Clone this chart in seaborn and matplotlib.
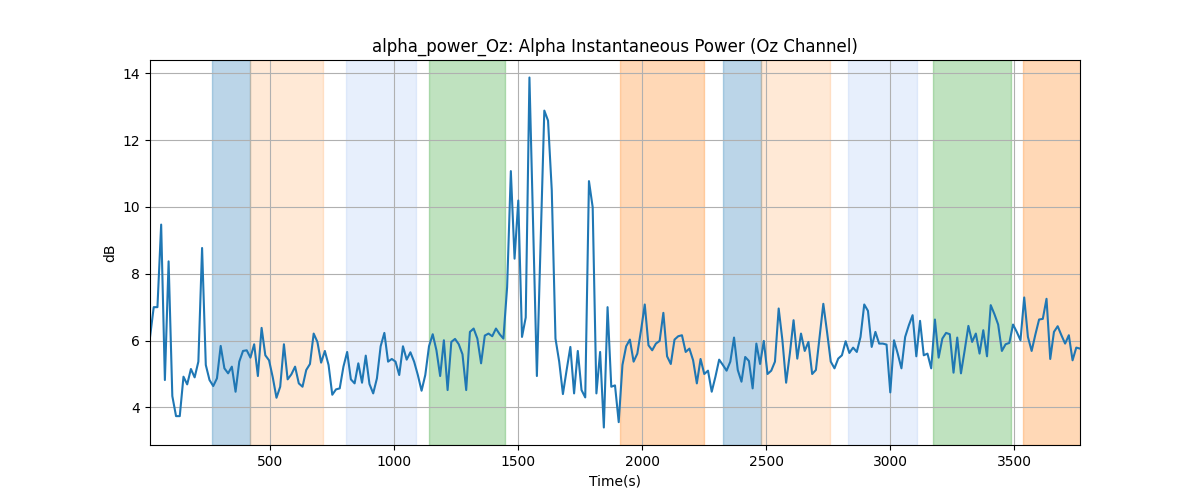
import numpy as np
import pandas as pd
import matplotlib
matplotlib.use("Agg")
import matplotlib.pyplot as plt
import seaborn as sns

# time axis (s): one sample every 15 s
time_s = np.arange(15, 3766, 15)

alpha_power_db = [
    6.1, 7.0, 7.0, 9.47, 4.82, 8.37, 4.34, 3.74, 3.74, 4.92,
    4.69, 5.15, 4.9, 5.37, 8.77, 5.27, 4.82, 4.64, 4.87, 5.84,
    5.17, 5.02, 5.22, 4.47, 5.37, 5.69, 5.71, 5.49, 5.89, 4.94,
    6.38, 5.56, 5.41, 4.9, 4.29, 4.62, 5.89, 4.84, 4.99, 5.22,
    4.72, 4.62, 5.12, 5.3, 6.21, 5.96, 5.34, 5.69, 5.27, 4.38,
    4.54, 4.57, 5.22, 5.66, 4.84, 4.72, 5.32, 4.74, 5.55, 4.7,
    4.42, 4.87, 5.83, 6.23, 5.37, 5.45, 5.37, 4.97, 5.83, 5.43,
    5.65, 5.37, 4.97, 4.5, 4.97, 5.83, 6.19, 5.71, 4.94, 6.01,
    4.52, 5.96, 6.05, 5.89, 5.59, 4.52, 6.26, 6.36, 6.06, 5.32,
    6.15, 6.21, 6.13, 6.36, 6.19, 6.06, 7.6, 11.07, 8.45, 10.19,
    6.11, 6.69, 13.87, 9.4, 4.94, 8.9, 12.88, 12.58, 10.5, 6.06,
    5.37, 4.4, 5.12, 5.81, 4.42, 5.69, 4.52, 4.3, 10.77, 9.99,
    4.42, 5.66, 3.4, 7.0, 4.62, 4.66, 3.56, 5.27, 5.83, 6.03,
    5.37, 5.61, 6.31, 7.08, 5.86, 5.71, 5.91, 5.99, 6.83, 5.53,
    5.3, 6.03, 6.13, 6.16, 5.66, 5.76, 5.41, 4.72, 5.45, 5.0,
    5.1, 4.47, 4.92, 5.43, 5.27, 5.1, 5.37, 6.09, 5.12, 4.77,
    5.51, 5.39, 4.57, 5.91, 5.3, 5.99, 5.0, 5.1, 5.37, 6.96,
    6.01, 4.74, 5.61, 6.61, 5.46, 6.21, 5.69, 5.96, 5.0, 5.12,
    6.1, 7.1, 6.26, 5.37, 5.17, 5.46, 5.56, 5.98, 5.63, 5.79,
    5.66, 6.11, 7.08, 6.89, 5.81, 6.26, 5.91, 5.91, 5.88, 4.45,
    6.01, 5.61, 5.17, 6.11, 6.46, 6.76, 5.53, 6.59, 5.56, 5.61,
    5.17, 6.63, 5.49, 6.06, 6.23, 6.19, 5.04, 6.09, 5.02, 5.71,
    6.44, 5.96, 6.21, 5.61, 6.31, 5.53, 7.06, 6.79, 6.48, 5.69,
    5.89, 5.93, 6.48, 6.26, 6.01, 7.29, 6.11, 5.69, 6.18, 6.63,
    6.65, 7.25, 5.45, 6.26, 6.43, 6.16, 5.91, 6.16, 5.41, 5.79,
    5.76,
]

# shaded segments (start, end) in seconds and their style
span_starts = [265, 420, 806, 1141, 1911, 2324, 2479, 2828, 3171, 3537]
span_ends = [420, 712, 1088, 1446, 2250, 2479, 2757, 3108, 3487, 3780]
span_colors = ["tab:blue", "tab:orange", "cornflowerblue", "tab:green", "tab:orange",
               "tab:blue", "tab:orange", "cornflowerblue", "tab:green", "tab:orange"]
span_alphas = [0.3, 0.17, 0.15, 0.3, 0.3, 0.3, 0.17, 0.15, 0.3, 0.3]

df = pd.DataFrame({"Time(s)": time_s, "dB": alpha_power_db})

fig, ax = plt.subplots(figsize=(12, 5), dpi=100)
for s, e, c, a in zip(span_starts, span_ends, span_colors, span_alphas):
    ax.axvspan(s, e, color=c, alpha=a)

sns.lineplot(data=df, x="Time(s)", y="dB", ax=ax, color="tab:blue", linewidth=1.5)
ax.set_xlim(time_s[0], time_s[-1])
ax.grid(True)
ax.set_title("alpha_power_Oz: Alpha Instantaneous Power (Oz Channel)")
ax.set_xlabel("Time(s)")
ax.set_ylabel("dB")
fig.savefig("out.png", dpi=100)
